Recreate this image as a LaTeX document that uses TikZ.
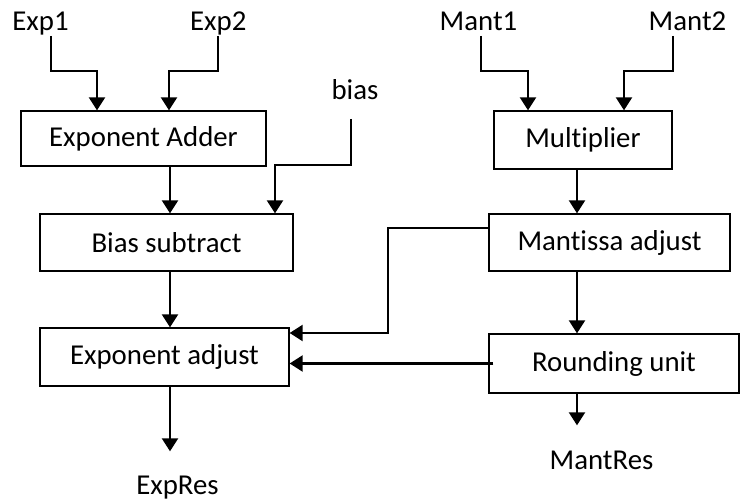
\documentclass[tikz,border=0pt]{standalone}
\usepackage{fontspec}
\setmainfont{Carlito}[Ligatures=NoCommon]
\usetikzlibrary{arrows.meta}
\begin{document}
\begin{tikzpicture}[x=1pt,y=-1pt,
  font=\fontsize{28.8}{33}\selectfont,
  blk/.style={draw,line width=1.3pt,inner sep=0pt,minimum width=#1},
  lbl/.style={inner sep=0pt,anchor=base},
  arr/.style={line width=2.2pt,-{Triangle[length=13pt,width=16pt]}}]
\useasboundingbox (0,0) rectangle (740,502);

% exponent path blocks
\node[blk=245pt,minimum height=55pt] (adder)   at (143.5,138.5) {Exponent Adder};
\node[blk=253pt,minimum height=57pt] (biassub) at (166.5,242.5) {Bias subtract};
\node[blk=249pt,minimum height=58pt] (expadj)  at (164.5,357)   {Exponent adjust};
% mantissa path blocks
\node[blk=178pt,minimum height=58pt] (mult)    at (583,140)     {Multiplier};
\node[blk=241pt,minimum height=57pt] (mantadj) at (609.5,242.5) {Mantissa adjust};
\node[blk=250pt,minimum height=59pt] (round)   at (614,363.5)   {Rounding unit};

% inputs and outputs
\node[lbl] (exp1)    at (40.5,31)  {Exp1};
\node[lbl] (exp2)    at (218.3,31) {Exp2};
\node[lbl] (bias)    at (355,100)  {bias};
\node[lbl] (mant1)   at (478.5,31) {Mant1};
\node[lbl] (mant2)   at (687.5,31) {Mant2};
\node[lbl] (expres)  at (177.5,495) {ExpRes};
\node[lbl] (mantres) at (601.5,470) {MantRes};

% exponent inputs
\draw[arr] ([xshift=10.5pt,yshift=-5pt]exp1.base) |- ([xshift=-46.5pt,yshift=39pt]adder.north) -- ([xshift=-46.5pt]adder.north);
\draw[arr] ([yshift=-5pt]exp2.base) |- ([xshift=25.5pt,yshift=39pt]adder.north) -- ([xshift=25.5pt]adder.north);
\draw[arr] ([xshift=-4pt,yshift=-19pt]bias.base) |- ([xshift=108.5pt,yshift=48pt]biassub.north) -- ([xshift=108.5pt]biassub.north);

% exponent chain
\draw[arr] ([xshift=26.5pt]adder.south) -- ([xshift=26.5pt]adder.south |- biassub.north);
\draw[arr] ([xshift=3.5pt]biassub.south) -- ([xshift=3.5pt]biassub.south |- expadj.north);
\draw[arr,shorten >=25pt] ([xshift=5.5pt]expadj.south) -- ([xshift=5.5pt]expadj.south |- expres.north);

% mantissa inputs
\draw[arr] ([xshift=2.5pt,yshift=-5pt]mant1.base) |- ([xshift=-55pt,yshift=39pt]mult.north) -- ([xshift=-55pt]mult.north);
\draw[arr] ([xshift=-14.5pt,yshift=-5pt]mant2.base) |- ([xshift=41pt,yshift=39pt]mult.north) -- ([xshift=41pt]mult.north);

% mantissa chain
\draw[arr] ([xshift=-6pt]mult.south) -- ([xshift=-6pt]mult.south |- mantadj.north);
\draw[arr] ([xshift=-32.5pt]mantadj.south) -- ([xshift=-32.5pt]mantadj.south |- round.north);
\draw[arr,shorten >=26pt] ([xshift=-37pt]round.south) -- ([xshift=-37pt]round.south |- mantres.north);

% feedback into exponent adjust
\draw[arr] ([yshift=14.5pt]mantadj.west) -- ++(-100,0) |- ([yshift=24pt]expadj.east);
\draw[arr] ([xshift=5pt]round.west) -- (round.west -| expadj.east);
\end{tikzpicture}
\end{document}
